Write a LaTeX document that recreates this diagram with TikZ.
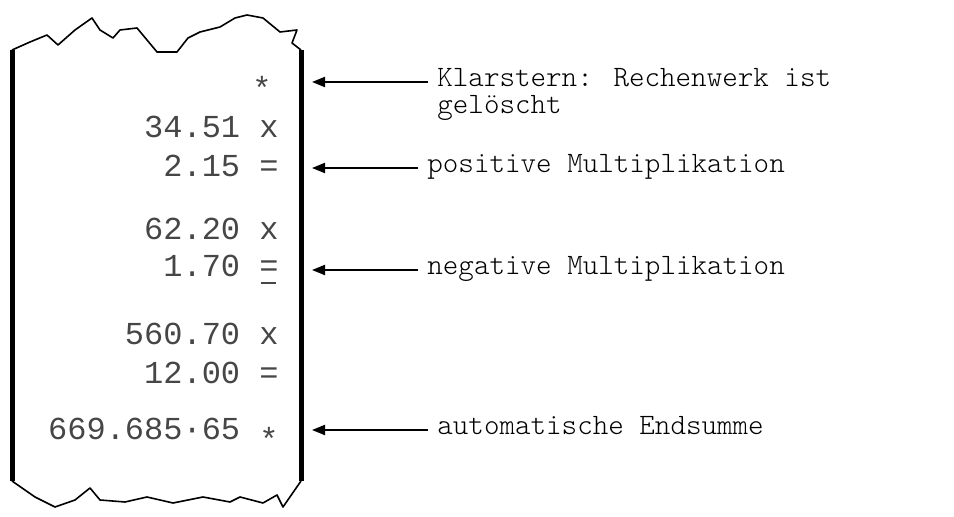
\documentclass[tikz,border=0pt]{standalone}
\usepackage{fontspec}
\usepackage{tikz}
\usetikzlibrary{
    positioning,
    arrows.meta,
    calc
}
\newfontfamily\slipfont{Liberation Mono}
\newfontfamily\notefont{Latin Modern Mono Light}
\definecolor{slipGray}{RGB}{70, 70, 70}

\begin{document}
\begin{tikzpicture}[x=0.5pt, y=-0.5pt, >={Triangle[length=6.5pt,width=5pt]},
    slipLine/.style={anchor=base east, inner sep=0pt, text=slipGray,
        font=\slipfont\fontsize{16}{18}\selectfont},
    noteText/.style={anchor=west, inner xsep=4.5pt, inner ysep=0pt,
        text height=0.75em, text depth=0.25em,
        font=\notefont\fontsize{14.8}{17}\selectfont}]
            \useasboundingbox (0,0) rectangle (954,517);
            
            % paper strip
            \draw[line width=2.5pt] (12,50) -- (12,481);
            \draw[line width=2.5pt] (301,50) -- (301,481);
            \draw[line width=0.8pt, line join=round] (12,50) -- (30,42) -- (47,35) -- (58,45)
                -- (75,30) -- (92,18) -- (100,30) -- (113,38) -- (120,30) -- (137,28)
                -- (157,52) -- (177,52) -- (188,38) -- (200,32) -- (220,27) -- (235,18)
                -- (247,15) -- (263,18) -- (280,32) -- (297,30) -- (292,43) -- (301,50);
            \draw[line width=0.8pt, line join=round] (12,481) -- (35,497) -- (55,507)
                -- (75,500) -- (90,488) -- (100,500) -- (125,502) -- (147,497)
                -- (173,503) -- (203,497) -- (230,502) -- (240,497) -- (263,503)
                -- (277,495) -- (283,507) -- (301,481);
            
            % printed rows
            \node[slipLine] (rowClear) at (272,100) {*};
            \node[slipLine] (rowA) at (279,138) {34.51 x};
            \node[slipLine] (rowB) at (279,177) {2.15 =};
            \node[slipLine] (rowC) at (279,240) {62.20 x};
            \node[slipLine] (rowD) at (279,277) {1.70 =};
            \node[slipLine] (rowE) at (279,345) {560.70 x};
            \node[slipLine] (rowF) at (279,384) {12.00 =};
            \node[slipLine] (rowSum) at (279,440) {669.685·65 \raisebox{-5.5pt}{*}};
            \draw[slipGray, line width=0.6pt] (261,283) -- (276,283); % minus mark
            
            % notes
            \node[noteText] (noteClear) at (428,82) {Klarstern: Rechenwerk ist};
            \node[noteText] (noteClearB) at (428,109) {gelöscht};
            \node[noteText] (notePos) at (418,168) {positive Multiplikation};
            \node[noteText] (noteNeg) at (418,270) {negative Multiplikation};
            \node[noteText] (noteSum) at (428,430) {automatische Endsumme};
            
            \coordinate (tipClear) at (312,82);
            \coordinate (tipPos) at (312,168);
            \coordinate (tipNeg) at (312,270);
            \coordinate (tipSum) at (312,430);
            
            \draw[->, line width=1pt] (noteClear.west) -- (tipClear);
            \draw[->, line width=1pt] (notePos.west) -- (tipPos);
            \draw[->, line width=1pt] (noteNeg.west) -- (tipNeg);
            \draw[->, line width=1pt] (noteSum.west) -- (tipSum);
        \end{tikzpicture}
\end{document}
